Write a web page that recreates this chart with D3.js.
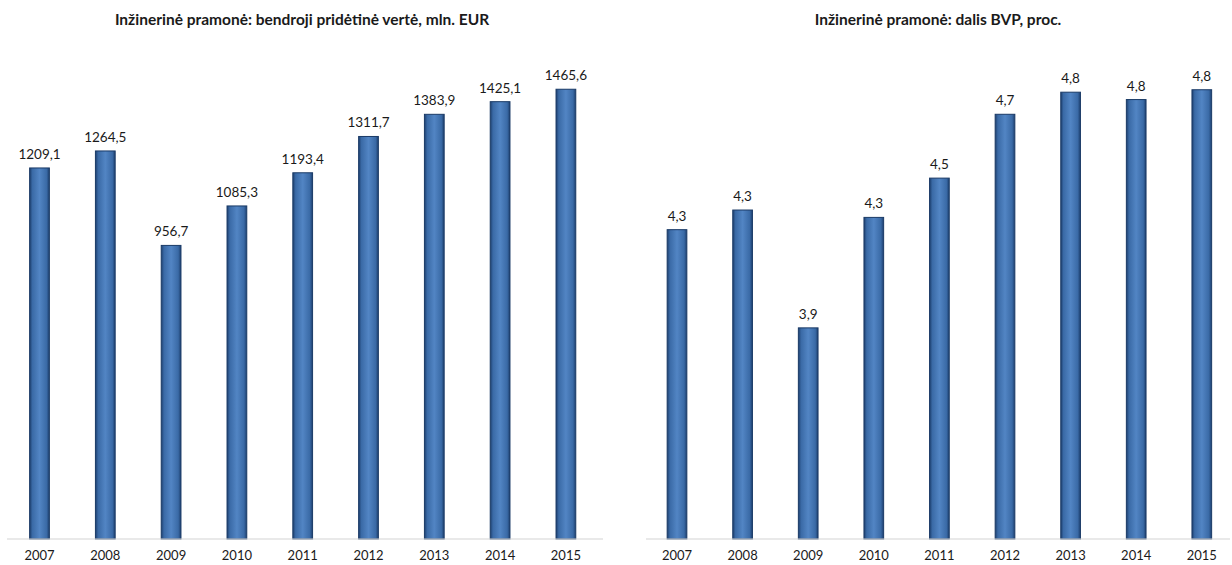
<!DOCTYPE html>
<html>
<head>
<meta charset="utf-8">
<script src="https://cdn.jsdelivr.net/npm/d3@7/dist/d3.min.js"></script>
<style>
  html, body { margin: 0; padding: 0; background: #ffffff; }
  svg { display: block; }
  text { font-family: Lato, "Open Sans", sans-serif; fill: #1a1a1a; }
</style>
</head>
<body>
<svg id="chart" width="1232" height="565"></svg>
<script>
// Years shared by both panels
const years = ["2007", "2008", "2009", "2010", "2011", "2012", "2013", "2014", "2015"];

// Gross value added of the engineering industry, mln. EUR
const gvaValues = [1209.1, 1264.5, 956.7, 1085.3, 1193.4, 1311.7, 1383.9, 1425.1, 1465.6];

// Engineering industry share of GDP, percent (shown rounded to one decimal)
const gdpShareValues = [4.26, 4.34, 3.86, 4.31, 4.47, 4.73, 4.82, 4.79, 4.83];

const titles = [
  "Inžinerinė pramonė: bendroji pridėtinė vertė, mln. EUR",
  "Inžinerinė pramonė: dalis BVP, proc."
];

const svg = d3.select("#chart");
const fmt = d3.format(".1f");
const lt = v => fmt(v).replace(".", ",");

// Bar shading: dark edges, lighter middle
const defs = svg.append("defs");
const grad = defs.append("linearGradient").attr("id", "barFill")
  .attr("x1", "0%").attr("x2", "100%").attr("y1", "0%").attr("y2", "0%");
[["0%", "#1d3f6e"], ["14%", "#3a6aa6"], ["50%", "#5285c4"], ["86%", "#3a6aa6"], ["100%", "#1d3f6e"]]
  .forEach(([o, c]) => grad.append("stop").attr("offset", o).attr("stop-color", c));

const baseY = 539, topY = 48;

function panel(cfg) {
  const g = svg.append("g");
  const x = d3.scaleBand().domain(years).range(cfg.xRange).paddingInner(0.7).paddingOuter(0.35);
  const y = d3.scaleLinear().domain(cfg.yDomain).range([baseY, topY]);

  g.append("text")
    .attr("x", cfg.titleX).attr("y", 25)
    .attr("text-anchor", "middle")
    .attr("font-size", 15.5).attr("font-weight", 700)
    .text(cfg.title);

  g.selectAll("rect.bar").data(cfg.values).join("rect")
    .attr("class", "bar")
    .attr("x", (d, i) => x(years[i]))
    .attr("width", x.bandwidth())
    .attr("y", d => y(d))
    .attr("height", d => baseY - y(d))
    .attr("fill", "url(#barFill)")
    .attr("stroke", "#1a3a66").attr("stroke-width", 1);

  g.selectAll("text.val").data(cfg.values).join("text")
    .attr("class", "val")
    .attr("x", (d, i) => x(years[i]) + x.bandwidth() / 2)
    .attr("y", d => y(d) - 9)
    .attr("text-anchor", "middle")
    .attr("font-size", 13.5)
    .text(d => lt(d));

  const axis = d3.axisBottom(x).tickSize(0).tickPadding(12);
  const ax = g.append("g").attr("transform", `translate(0,${baseY})`).call(axis);
  ax.select(".domain").attr("stroke", "#d4d4d4").attr("stroke-width", 1.2)
    .attr("d", `M${cfg.lineRange[0]},0H${cfg.lineRange[1]}`);
  ax.selectAll("text").attr("font-size", 13).attr("fill", "#1a1a1a")
    .style("font-family", "Lato, 'Open Sans', sans-serif");
}

panel({
  title: titles[0], titleX: 302,
  values: gvaValues, yDomain: [0, 1600],
  xRange: [6.6, 598.8], lineRange: [7, 603]
});

panel({
  title: titles[1], titleX: 938,
  values: gdpShareValues, yDomain: [3, 5],
  xRange: [644.2, 1234.6], lineRange: [646, 1230]
});
</script>
</body>
</html>
